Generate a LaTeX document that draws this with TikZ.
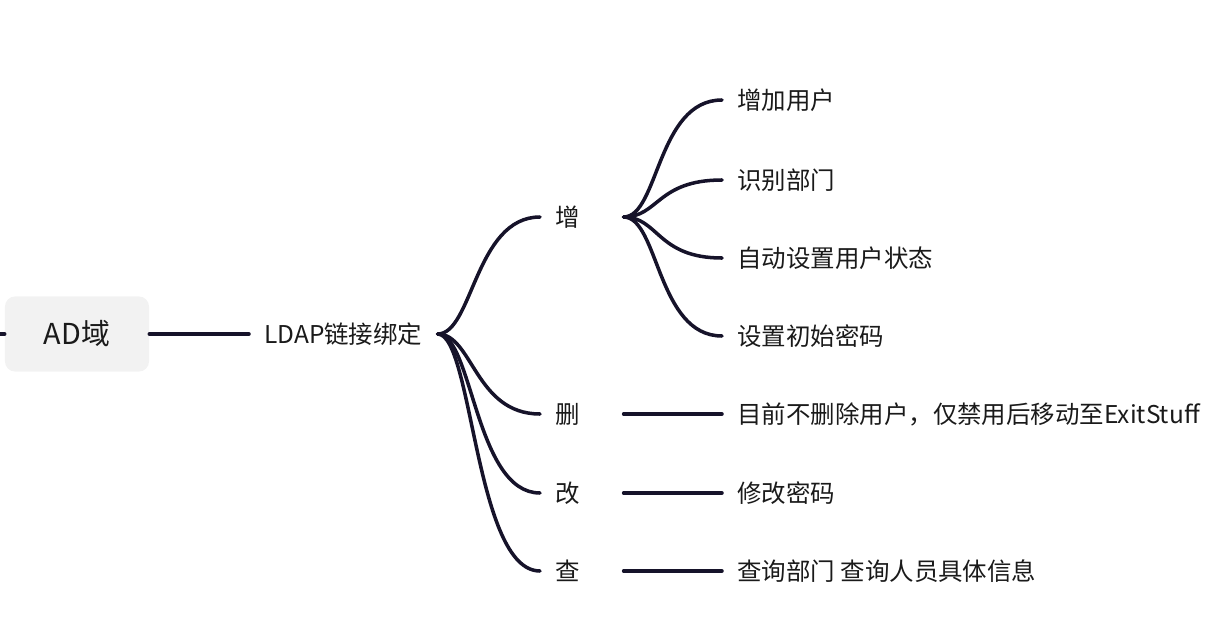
\documentclass[tikz,border=0pt]{standalone}
\usepackage{fontspec}
\setmainfont{Noto Sans CJK SC}
\usepackage{xcolor}
\usepackage{tikz}
\usetikzlibrary{positioning}
\definecolor{mapline}{RGB}{22,19,42}
\definecolor{rootgray}{RGB}{242,242,242}
\definecolor{maptext}{RGB}{26,26,26}

\begin{document}
\begin{tikzpicture}[
  x=0.025cm, y=-0.025cm,
  every node/.style={font=\fontsize{17.4}{20}\selectfont, text=maptext,
    inner xsep=0.375cm, inner ysep=0pt},
  rootbox/.style={
    fill=rootgray, rounded corners=0.25cm,
    minimum width=3.6cm, minimum height=1.875cm,
    inner xsep=0pt, font=\fontsize{20.5}{24}\selectfont
  },
  topic/.style={anchor=west},
  subtopic/.style={anchor=west, text width=1.325cm, align=left},
  leaf/.style={anchor=west},
  branch/.style={draw=mapline, line width=2.5pt, line cap=round},
]
\useasboundingbox (0,0) rectangle (1211,638);

% Root and main topic
\node[rootbox] (root) at (77,334) {AD域};
\node[topic] (ldap) at (249,334) {LDAP链接绑定};
\coordinate (stub) at (0,334);

% Operations
\node[subtopic] (zeng) at (540,217) {增};
\node[subtopic] (shan) at (540,414) {删};
\node[subtopic] (gai) at (540,493) {改};
\node[subtopic] (cha) at (540,571) {查};

% Details
\node[leaf] (adduser) at (722,100) {增加用户};
\node[leaf] (dept) at (722,180) {识别部门};
\node[leaf] (state) at (722,258) {自动设置用户状态};
\node[leaf] (initpw) at (722,336) {设置初始密码};
\node[leaf] (disable) at (722,414) {目前不删除用户，仅禁用后移动至ExitStuff};
\node[leaf] (chpw) at (722,493) {修改密码};
\node[leaf] (query) at (722,571) {查询部门 查询人员具体信息};

% Straight connectors
\draw[branch] (stub) -- (root.west);
\draw[branch] (root.east) -- (ldap.west);
\draw[branch] (shan.east) -- (disable.west);
\draw[branch] (gai.east) -- (chpw.west);
\draw[branch] (cha.east) -- (query.west);

% Curved branches
\draw[branch] (ldap.east) .. controls +(35,0) and +(-65,0) .. (zeng.west);
\draw[branch] (ldap.east) .. controls +(35,0) and +(-65,0) .. (shan.west);
\draw[branch] (ldap.east) .. controls +(35,0) and +(-65,0) .. (gai.west);
\draw[branch] (ldap.east) .. controls +(35,0) and +(-65,0) .. (cha.west);
\draw[branch] (zeng.east) .. controls +(35,0) and +(-65,0) .. (adduser.west);
\draw[branch] (zeng.east) .. controls +(35,0) and +(-65,0) .. (dept.west);
\draw[branch] (zeng.east) .. controls +(35,0) and +(-65,0) .. (state.west);
\draw[branch] (zeng.east) .. controls +(35,0) and +(-65,0) .. (initpw.west);

\end{tikzpicture}
\end{document}
